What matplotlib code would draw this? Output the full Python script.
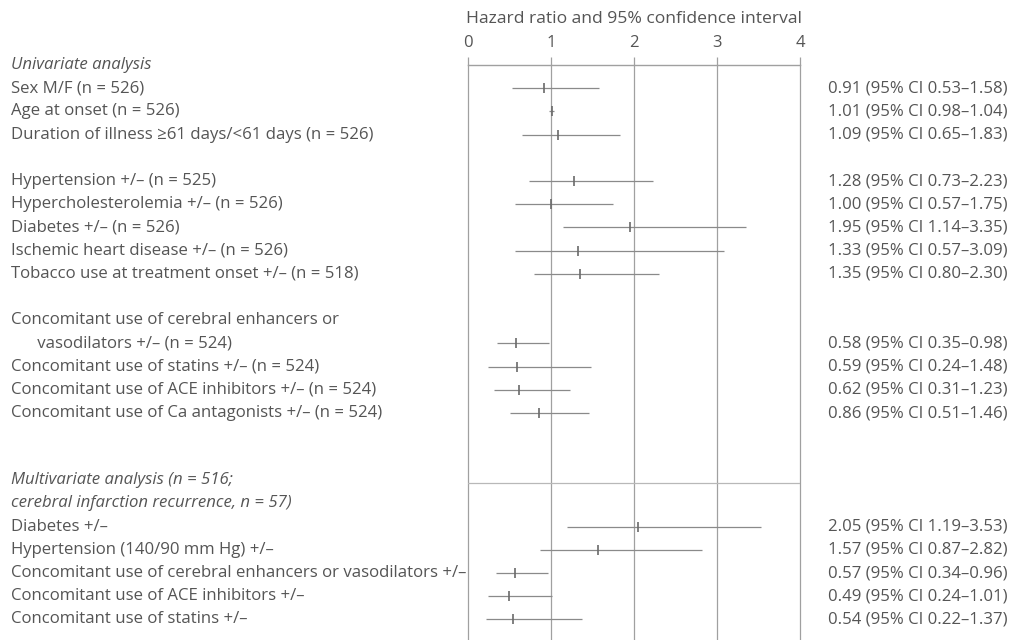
import matplotlib
matplotlib.use("Agg")
import matplotlib.pyplot as plt
from matplotlib.transforms import blended_transform_factory

plt.rcParams['font.family'] = ['Open Sans', 'DejaVu Sans']

# ---- data -------------------------------------------------------------
uni_labels = [
    "Sex M/F (n = 526)",
    "Age at onset (n = 526)",
    "Duration of illness \u226561 days/<61 days (n = 526)",
    "Hypertension +/\u2013 (n = 525)",
    "Hypercholesterolemia +/\u2013 (n = 526)",
    "Diabetes +/\u2013 (n = 526)",
    "Ischemic heart disease +/\u2013 (n = 526)",
    "Tobacco use at treatment onset +/\u2013 (n = 518)",
    "Concomitant use of cerebral enhancers or\n      vasodilators +/\u2013 (n = 524)",
    "Concomitant use of statins +/\u2013 (n = 524)",
    "Concomitant use of ACE inhibitors +/\u2013 (n = 524)",
    "Concomitant use of Ca antagonists +/\u2013 (n = 524)",
]
uni_hr = [0.91, 1.01, 1.09, 1.28, 1.00, 1.95, 1.33, 1.35, 0.58, 0.59, 0.62, 0.86]
uni_lo = [0.53, 0.98, 0.65, 0.73, 0.57, 1.14, 0.57, 0.80, 0.35, 0.24, 0.31, 0.51]
uni_hi = [1.58, 1.04, 1.83, 2.23, 1.75, 3.35, 3.09, 2.30, 0.98, 1.48, 1.23, 1.46]

multi_labels = [
    "Diabetes +/\u2013",
    "Hypertension (140/90 mm Hg) +/\u2013",
    "Concomitant use of cerebral enhancers or vasodilators +/\u2013",
    "Concomitant use of ACE inhibitors +/\u2013",
    "Concomitant use of statins +/\u2013",
]
multi_hr = [2.05, 1.57, 0.57, 0.49, 0.54]
multi_lo = [1.19, 0.87, 0.34, 0.24, 0.22]
multi_hi = [3.53, 2.82, 0.96, 1.01, 1.37]

x_ticks = [0, 1, 2, 3, 4]

# ---- layout (row slots, top = 0) ---------------------------------------
uni_rows = [1, 2, 3, 5, 6, 7, 8, 9, 12, 13, 14, 15]
multi_rows = [19.9, 20.9, 21.9, 22.9, 23.9]
multi_head_rows = [17.9, 18.9]
divider_row = 18
W, H = 1012, 640
top_px, pitch = 65, 23.2
left_px, right_px = 468, 800
n_rows = (H - top_px) / pitch

TEXT = "#555555"
GRID = "#a0a0a0"
BAR = "#8a8a8a"
FS = 12.1

fig = plt.figure(figsize=(W / 100, H / 100), dpi=100)
ax = fig.add_axes([left_px / W, 0, (right_px - left_px) / W, (H - top_px) / H])
ax.set_xlim(0, 4)
ax.set_ylim(n_rows, 0)
for s in ax.spines.values():
    s.set_visible(False)

# frame and reference lines
for xv in x_ticks:
    ax.axvline(xv, color=GRID, lw=0.9, clip_on=False, zorder=1)
ax.plot([0, 4], [0, 0], color=GRID, lw=1.0, clip_on=False, zorder=1)
ax.plot([0, 4], [divider_row, divider_row], color="#b8b8b8", lw=0.9, zorder=1)

ax.xaxis.set_ticks_position('top')
ax.set_xticks(x_ticks)
ax.set_xticklabels([str(t) for t in x_ticks])
ax.tick_params(axis='x', direction='out', length=6, width=0.9, color=GRID,
               labelcolor=TEXT, labelsize=12, pad=4)
ax.set_yticks([])

# hazard ratios with confidence intervals
all_rows = uni_rows + multi_rows
all_hr = uni_hr + multi_hr
all_lo = uni_lo + multi_lo
all_hi = uni_hi + multi_hi
ax.hlines(all_rows, all_lo, all_hi, color=BAR, lw=0.9, zorder=2)
ax.plot(all_hr, all_rows, linestyle='none', marker='|', markersize=7,
        markeredgewidth=1.2, color="#6a6a6a", zorder=3)

# text columns
tr = blended_transform_factory(fig.transFigure, ax.transData)
lx = 11 / W
rx = 828 / W

ax.text(lx, 0, "Univariate analysis", transform=tr, ha='left', va='center',
        fontsize=FS, color=TEXT, style='italic')
for lab, r in zip(uni_labels, uni_rows):
    if "\n" in lab:
        first, second = lab.split("\n")
        ax.text(lx, r - 1, first, transform=tr, ha='left', va='center',
                fontsize=FS, color=TEXT)
        ax.text(lx, r, second, transform=tr, ha='left', va='center',
                fontsize=FS, color=TEXT)
    else:
        ax.text(lx, r, lab, transform=tr, ha='left', va='center',
                fontsize=FS, color=TEXT)

ax.text(lx, multi_head_rows[0], "Multivariate analysis (n = 516;", transform=tr,
        ha='left', va='center', fontsize=FS, color=TEXT, style='italic')
ax.text(lx, multi_head_rows[1], "cerebral infarction recurrence, n = 57)",
        transform=tr, ha='left', va='center', fontsize=FS, color=TEXT,
        style='italic')
for lab, r in zip(multi_labels, multi_rows):
    ax.text(lx, r, lab, transform=tr, ha='left', va='center',
            fontsize=FS, color=TEXT)

for hr, lo, hi, r in zip(all_hr, all_lo, all_hi, all_rows):
    ax.text(rx, r, f"{hr:.2f} (95% CI {lo:.2f}\u2013{hi:.2f})", transform=tr,
            ha='left', va='center', fontsize=FS, color=TEXT)

fig.text((left_px + right_px) / 2 / W, 1 - 19 / H,
         "Hazard ratio and 95% confidence interval",
         ha='center', va='center', fontsize=12.6, color=TEXT)

fig.savefig("out.png", dpi=100, facecolor="white")
